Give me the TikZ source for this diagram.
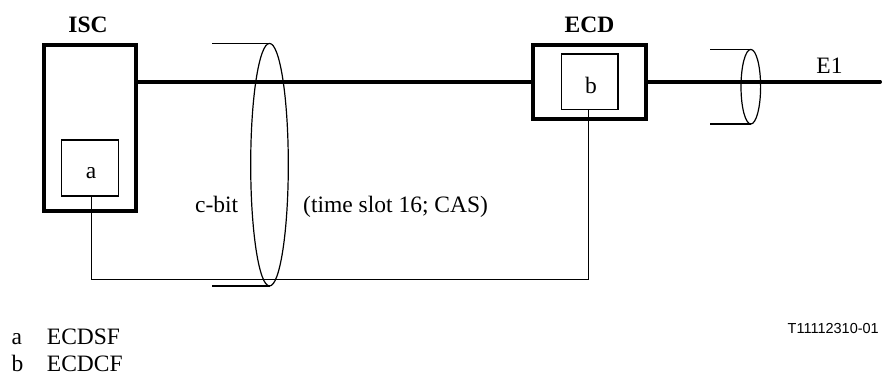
\documentclass[tikz,border=0pt]{standalone}
\usepackage{fontspec}
\setmainfont{Liberation Serif}
\newfontfamily\arialfont{Liberation Sans}
\usetikzlibrary{shapes.geometric}
\begin{document}
\begin{tikzpicture}[x=1pt,y=-1pt,
  outerbox/.style={draw, line width=4pt, minimum width=#1, inner sep=0pt, outer sep=0pt},
  innerbox/.style={draw, line width=1.2pt, inner sep=0pt, outer sep=0pt},
  cable/.style={line width=4pt},
  wire/.style={line width=1.2pt},
  bundle/.style={draw, ellipse, line width=1.2pt, inner sep=0pt, outer sep=0pt},
  lbl/.style={inner sep=0pt, anchor=base, font=\fontsize{23.5}{28}\selectfont},
  lblw/.style={inner sep=0pt, anchor=base west, font=\fontsize{23.5}{28}\selectfont},
  blbl/.style={inner sep=0pt, anchor=base, font=\fontsize{23.5}{28}\selectfont\bfseries}]
\useasboundingbox (0,0) rectangle (882,376);

% boxes
\node[outerbox=92.6, minimum height=166] (isc) at (90,127.7) {};
\node[outerbox=113.3, minimum height=74] (ecd) at (589.65,81.7) {};
\node[innerbox, minimum width=56.6, minimum height=56] (a) at (90,168) {};
\node[innerbox, minimum width=56.5, minimum height=55.5] (b) at (589.8,81.8) {};

% bundles (ellipses)
\node[bundle, minimum width=37.6, minimum height=242.6] (bl) at (269.5,164.7) {};
\node[bundle, minimum width=19.6, minimum height=74.6] (br) at (750.8,86.7) {};
\coordinate (tl) at (212.3,0);
\coordinate (tr) at (710,0);
\draw[wire] (bl.north) -- (bl.north -| tl);
\draw[wire] (bl.south) -- (bl.south -| tl);
\draw[wire] (br.north) -- (br.north -| tr);
\draw[wire] (br.south) -- (br.south -| tr);

% main cable
\coordinate (e1end) at (880,81.7);
\draw[cable] (isc.east |- ecd.west) -- (ecd.west);
\draw[cable, line cap=round] (ecd.east) -- (e1end);

% c-bit loop
\coordinate (loop) at (0,279.3);
\draw[wire] ([xshift=1.5pt]a.south) -- ([xshift=1.5pt]a.south |- loop) -| ([xshift=-1.5pt]b.south);

% labels
\node[blbl] (iscl) at (88,32) {ISC};
\node[blbl] (ecdl) at (589.5,32) {ECD};
\node[lbl] (al) at (91,178) {a};
\node[lbl] (bll) at (591,93.3) {b};
\node[lbl] (e1) at (829.5,73) {E1};
\node[lblw] (cbit) at (195,212) {c-bit};
\node[lblw] (ts) at (303,212) {(time slot 16; CAS)};
\node[lblw] (la) at (11.5,344.8) {a};
\node[lblw] (lat) at (46.7,344.8) {ECDSF};
\node[lblw] (lb) at (11.5,371.2) {b};
\node[lblw] (lbt) at (46.7,371.2) {ECDCF};
\node[inner sep=0pt, anchor=base east, font=\fontsize{14.5}{17}\selectfont\arialfont] (ref) at (879,333) {T11112310-01};
\end{tikzpicture}
\end{document}
